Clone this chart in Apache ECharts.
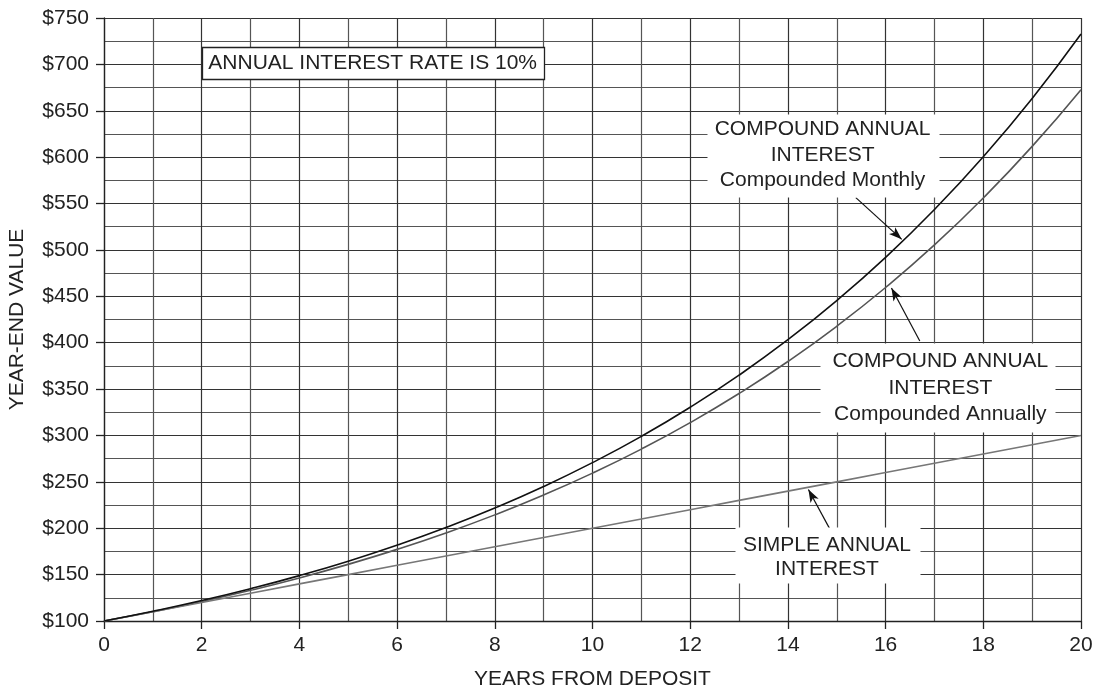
<!DOCTYPE html>
<html>
<head>
<meta charset="utf-8">
<script src="https://cdn.jsdelivr.net/npm/echarts@6/dist/echarts.min.js"></script>
<style>html,body{margin:0;padding:0;background:#fff;}#c{width:1102px;height:689px;}</style>
</head>
<body>
<div id="c"></div>
<script>
const years = [0,1,2,3,4,5,6,7,8,9,10,11,12,13,14,15,16,17,18,19,20];
const compoundMonthly = [100,110.5,122.0,134.8,148.9,164.5,181.8,200.8,221.8,245.0,270.7,299.0,330.4,365.0,403.2,445.4,492.0,543.6,600.5,663.3,732.8];
const compoundAnnual = [100,110.0,121.0,133.1,146.4,161.1,177.2,194.9,214.4,235.8,259.4,285.3,313.8,345.2,379.7,417.7,459.5,505.4,556.0,611.6,672.7];
const simpleInterest = [100,110,120,130,140,150,160,170,180,190,200,210,220,230,240,250,260,270,280,290,300];
const yTickLabels = ['$100','$150','$200','$250','$300','$350','$400','$450','$500','$550','$600','$650','$700','$750'];

const FONT = '"Liberation Sans", Arial, Helvetica, sans-serif';
const TXT = '#222';
const pairs = a => years.map((y, i) => [y, a[i]]);

const chart = echarts.init(document.getElementById('c'), null, {renderer: 'canvas'});

function arrow(x1, y1, x2, y2) {
  return [{coord: [x1, y1], symbol: 'none'}, {coord: [x2, y2], symbol: 'arrow'}];
}
function ml(data) {
  return {
    silent: true, animation: false,
    symbol: ['none', 'arrow'], symbolSize: [7, 13],
    label: {show: false},
    lineStyle: {color: '#111', width: 1.2, type: 'solid'},
    emphasis: {disabled: true},
    data: data
  };
}

const axisCommon = {
  type: 'value',
  axisLine: {show: true, lineStyle: {color: '#222', width: 1.3}},
  axisTick: {show: true, inside: false, length: 8, lineStyle: {color: '#222', width: 1.3}},
  splitLine: {show: true, lineStyle: {color: '#333', width: 1.2}},
  minorTick: {show: false, splitNumber: 2},
  minorSplitLine: {show: true, lineStyle: {color: '#555', width: 1.2}},
  nameLocation: 'middle',
  nameTextStyle: {fontFamily: FONT, fontSize: 21, color: TXT}
};

chart.setOption({
  animation: false,
  backgroundColor: '#fff',
  grid: {left: 104, right: 21, top: 18, bottom: 68, containLabel: false, outerBoundsMode: 'none'},
  xAxis: Object.assign({}, axisCommon, {
    min: 0, max: 20, interval: 2,
    name: 'YEARS FROM DEPOSIT', nameGap: 48,
    axisLabel: {fontFamily: FONT, fontSize: 21, color: TXT, margin: 14}
  }),
  yAxis: Object.assign({}, axisCommon, {
    min: 100, max: 750, interval: 50,
    name: 'YEAR-END VALUE', nameGap: 76,
    axisLabel: {fontFamily: FONT, fontSize: 21, color: TXT, margin: 15,
      formatter: v => yTickLabels[Math.round((v - 100) / 50)]}
  }),
  series: [
    {type: 'line', name: 'Compounded Monthly', data: pairs(compoundMonthly), smooth: true,
     showSymbol: false, symbol: 'none', lineStyle: {color: '#111', width: 1.6}, z: 4,
     markLine: ml([arrow(15.39, 556.4, 16.33, 511.4)])},
    {type: 'line', name: 'Compounded Annually', data: pairs(compoundAnnual), smooth: true,
     showSymbol: false, symbol: 'none', lineStyle: {color: '#555', width: 1.6}, z: 3,
     markLine: ml([arrow(16.70, 401.8, 16.12, 459.0)])},
    {type: 'line', name: 'Simple', data: pairs(simpleInterest),
     showSymbol: false, symbol: 'none', lineStyle: {color: '#777', width: 1.6}, z: 3,
     markLine: ml([arrow(14.86, 199.0, 14.42, 241.8)])}
  ]
});

const notes = [
  {rect: [2.0, 718.4, 9.0, 684.0], border: true, cx: 5.5, lines: [['ANNUAL INTEREST RATE IS 10%', 701.8]]},
  {rect: [12.34, 647, 17.08, 557], border: false, cx: 14.71,
   lines: [['COMPOUND ANNUAL', 630], ['INTEREST', 602.3], ['Compounded Monthly', 574.8]]},
  {rect: [14.66, 400, 19.48, 304.6], border: false, cx: 17.12,
   lines: [['COMPOUND ANNUAL', 380.3], ['INTEREST', 351.3], ['Compounded Annually', 322.5]]},
  {rect: [12.92, 201, 16.70, 141], border: false, cx: 14.8,
   lines: [['SIMPLE ANNUAL', 182], ['INTEREST', 155.4]]}
];

function drawNotes() {
  const els = [];
  notes.forEach(n => {
    const p1 = chart.convertToPixel({gridIndex: 0}, [n.rect[0], n.rect[1]]);
    const p2 = chart.convertToPixel({gridIndex: 0}, [n.rect[2], n.rect[3]]);
    els.push({
      type: 'rect', z: 5, silent: true,
      shape: {x: Math.round(p1[0]) + 0.5, y: Math.round(p1[1]) + 0.5, width: Math.round(p2[0] - p1[0]), height: Math.round(p2[1] - p1[1])},
      style: {fill: '#fff', stroke: n.border ? '#222' : null, lineWidth: n.border ? 1.3 : 0}
    });
    n.lines.forEach(l => {
      const p = chart.convertToPixel({gridIndex: 0}, [n.cx, l[1]]);
      els.push({
        type: 'text', z: 6, silent: true,
        style: {text: l[0], x: p[0], y: p[1], fill: TXT, font: '21px ' + FONT,
          textAlign: 'center', textVerticalAlign: 'middle', align: 'center', verticalAlign: 'middle'}
      });
    });
  });
  chart.setOption({graphic: els});
}
drawNotes();
</script>
</body>
</html>
